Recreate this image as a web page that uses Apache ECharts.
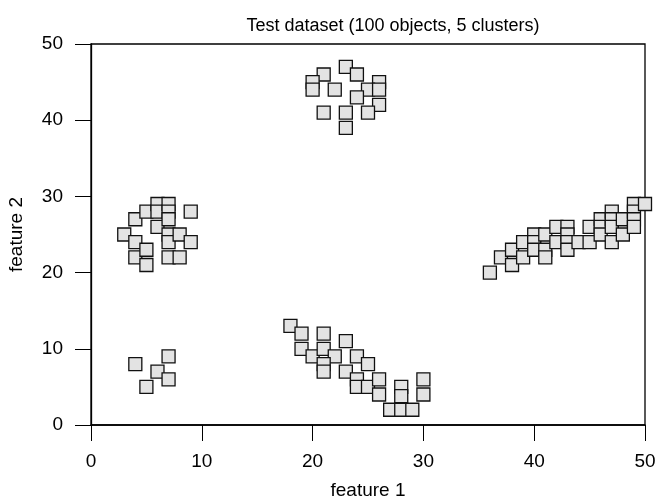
<!DOCTYPE html>
<html><head><meta charset="utf-8">
<script src="https://cdn.jsdelivr.net/npm/echarts@6/dist/echarts.min.js"></script>
<style>html,body{margin:0;padding:0;background:#fff}#c{width:658px;height:500px}</style>
</head><body><div id="c"></div>
<script>
const titleText = 'Test dataset (100 objects, 5 clusters)';
const xName = 'feature 1';
const yName = 'feature 2';
const xTicks = [0, 10, 20, 30, 40, 50];
const yTicks = [0, 10, 20, 30, 40, 50];

const clusterA = [[4,8],[7,9],[6,7],[7,6],[5,5]];
const clusterB = [[3,25],[4,27],[4,24],[4,22],[5,28],[5,23],[5,21],[6,29],[6,26],[6,28],[7,29],[7,28],[7,27],[7,25],[7,24],[7,22],[8,25],[8,22],[9,28],[9,24]];
const clusterC = [[23,47],[21,46],[24,46],[20,45],[26,45],[20,44],[22,44],[25,44],[26,44],[24,43],[26,42],[21,41],[23,41],[25,41],[23,39]];
const clusterD = [[18,13],[19,12],[21,12],[19,10],[20,9],[21,10],[23,11],[22,9],[21,8],[21,7],[24,9],[25,8],[23,7],[24,6],[24,5],[25,5],[26,6],[26,4],[28,5],[28,3.8],[30,6],[30,4],[27,2],[28,2],[29,2]];
const clusterE = [[36,20],[37,22],[38,23],[38,21],[39,24],[39,22],[40,25],[40,24],[40,23],[41,25],[41,23],[41,22],[42,26],[42,24],[43,26],[43,25],[43,24],[43,23],[44,24],[45,26],[45,24],[46,27],[46,26],[46,25],[47,28],[47,27],[47,26],[47,24],[48,27],[48,25],[49,29],[49,28],[49,27],[49,26],[50,29]];

const allPoints = [].concat(clusterA, clusterB, clusterC, clusterD, clusterE);

const chart = echarts.init(document.getElementById('c'), null, {renderer: 'canvas'});
const font = 'Liberation Sans, Arial, sans-serif';
chart.setOption({
  animation: false,
  title: {
    text: titleText, left: 388, top: 12, textAlign: 'center',
    textStyle: {fontFamily: font, fontSize: 18, fontWeight: 'normal', color: '#000'}
  },
  grid: {left: 91, right: 13, top: 44, bottom: 75, outerBoundsMode: 'none', containLabel: false, show: true, borderColor: '#000', borderWidth: 1.3, backgroundColor: 'transparent'},
  xAxis: {
    type: 'value', min: xTicks[0], max: xTicks[xTicks.length-1], interval: 10,
    name: xName, nameLocation: 'middle', nameGap: 56,
    nameTextStyle: {fontFamily: font, fontSize: 19, color: '#000'},
    axisLine: {show: true, lineStyle: {color: '#000', width: 1.5}},
    axisTick: {show: true, length: 16, lineStyle: {color: '#000', width: 1}},
    axisLabel: {fontFamily: font, fontSize: 19, color: '#000', margin: 27},
    splitLine: {show: false}
  },
  yAxis: {
    type: 'value', min: yTicks[0], max: yTicks[yTicks.length-1], interval: 10,
    name: yName, nameLocation: 'middle', nameGap: 65, nameRotate: 90,
    nameTextStyle: {fontFamily: font, fontSize: 19, color: '#000'},
    axisLine: {show: true, lineStyle: {color: '#000', width: 1.3}},
    axisTick: {show: true, length: 16, lineStyle: {color: '#000', width: 1}},
    axisLabel: {fontFamily: font, fontSize: 19, color: '#000', margin: 28},
    splitLine: {show: false}
  },
  series: [{
    type: 'scatter', data: allPoints, symbol: 'rect', symbolSize: 13,
    itemStyle: {color: '#e3e3e3', borderColor: '#111', borderWidth: 1.3, opacity: 1},
    emphasis: {disabled: true}
  }]
});
</script></body></html>
